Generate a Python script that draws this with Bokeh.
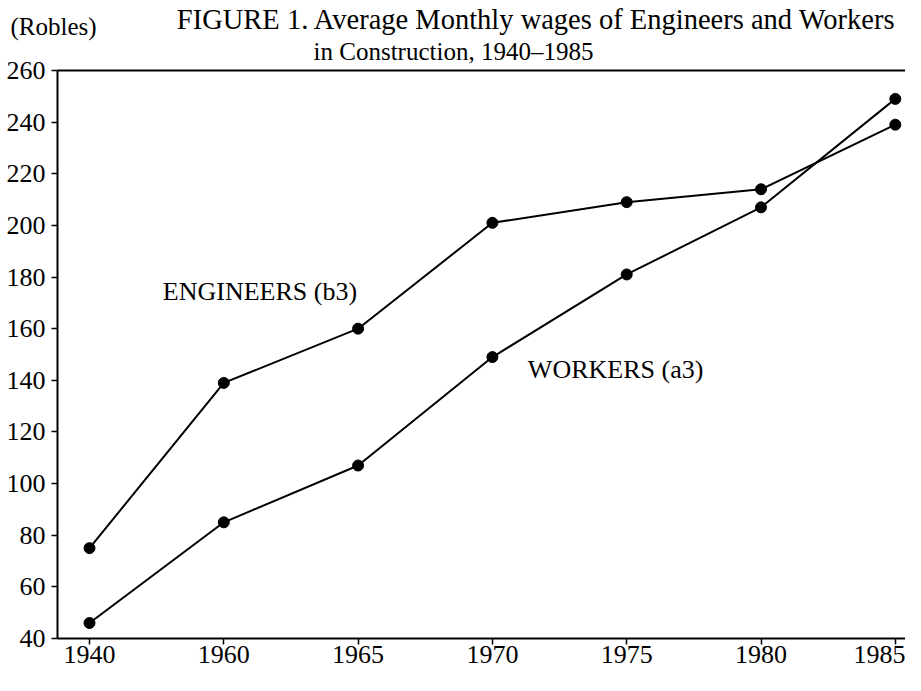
from bokeh.plotting import figure
from bokeh.models import Range1d, FixedTicker, Label, LinearAxis
from bokeh.embed import file_html
from bokeh.resources import INLINE

# ---- data ----
years = ["1940", "1960", "1965", "1970", "1975", "1980", "1985"]
engineers = [75, 139, 160, 201, 209, 214, 239]
workers = [46, 85, 107, 149, 181, 207, 249]
y_ticks = [40, 60, 80, 100, 120, 140, 160, 180, 200, 220, 240, 260]

x_idx = list(range(len(years)))

FONT = "Liberation Serif"
W, H = 905, 675

p = figure(
    width=W, height=H,
    output_backend="svg", toolbar_location=None,
    x_range=Range1d(-0.6627, 6.0759), y_range=Range1d(25.67, 287.11),
    min_border=0, min_border_left=0, min_border_right=0,
    min_border_top=0, min_border_bottom=0,
)
p.title.visible = False
p.grid.visible = False
p.outline_line_color = None
p.background_fill_color = "white"
p.border_fill_color = "white"

AX_LEFT = -0.2383
AX_RIGHT = 6.0759


def style_axis(ax):
    ax.axis_line_width = 2
    ax.axis_line_color = "black"
    ax.major_tick_in = 0
    ax.major_tick_out = 6
    ax.major_tick_line_width = 1.5
    ax.major_tick_line_color = "black"
    ax.minor_tick_line_color = None
    ax.major_label_text_font = FONT
    ax.major_label_text_font_size = "26px"
    ax.major_label_text_font_style = "normal"
    ax.major_label_text_color = "black"


for ax in (p.xaxis[0], p.yaxis[0]):
    style_axis(ax)

p.xaxis.ticker = FixedTicker(ticks=x_idx)
p.xaxis.major_label_overrides = {i: y for i, y in enumerate(years)}
p.xaxis.major_label_standoff = 1
p.xaxis.fixed_location = 40
p.xaxis.bounds = (AX_LEFT, AX_RIGHT)

p.yaxis.ticker = FixedTicker(ticks=y_ticks)
p.yaxis.bounds = (40, 260)
p.yaxis.major_label_standoff = 6
p.yaxis.fixed_location = AX_LEFT

# top frame line (an axis without ticks, drawn at 260)
top = LinearAxis(ticker=FixedTicker(ticks=[]), fixed_location=260,
                 bounds=(AX_LEFT, AX_RIGHT), axis_line_width=2, axis_line_color="black",
                 major_tick_line_color=None, minor_tick_line_color=None,
                 major_label_text_font_size="0px")
p.add_layout(top, "above")

# series
p.line(x_idx, engineers, line_color="black", line_width=2)
p.scatter(x_idx, engineers, size=11, color="black")
p.line(x_idx, workers, line_color="black", line_width=2)
p.scatter(x_idx, workers, size=11, color="black")

# series labels
p.add_layout(Label(x=0.546, y=174.5, text="ENGINEERS (b3)", text_font=FONT,
                   text_font_size="26px", text_color="black", text_baseline="alphabetic"))
p.add_layout(Label(x=3.264, y=144.2, text="WORKERS (a3)", text_font=FONT,
                   text_font_size="26px", text_color="black", text_baseline="alphabetic"))

# titles
p.add_layout(Label(x=3.33, y=279.75, text="FIGURE 1. Average Monthly wages of Engineers and Workers",
                   text_font=FONT, text_font_size="28.5px", text_color="black",
                   text_align="center", text_baseline="alphabetic"))
p.add_layout(Label(x=2.71, y=267.36, text="in Construction, 1940–1985",
                   text_font=FONT, text_font_size="25px", text_color="black",
                   text_align="center", text_baseline="alphabetic"))
p.add_layout(Label(x=-0.588, y=277.16, text="(Robles)",
                   text_font=FONT, text_font_size="25px", text_color="black",
                   text_align="left", text_baseline="alphabetic"))

open("out.html", "w").write(file_html(p, INLINE))
